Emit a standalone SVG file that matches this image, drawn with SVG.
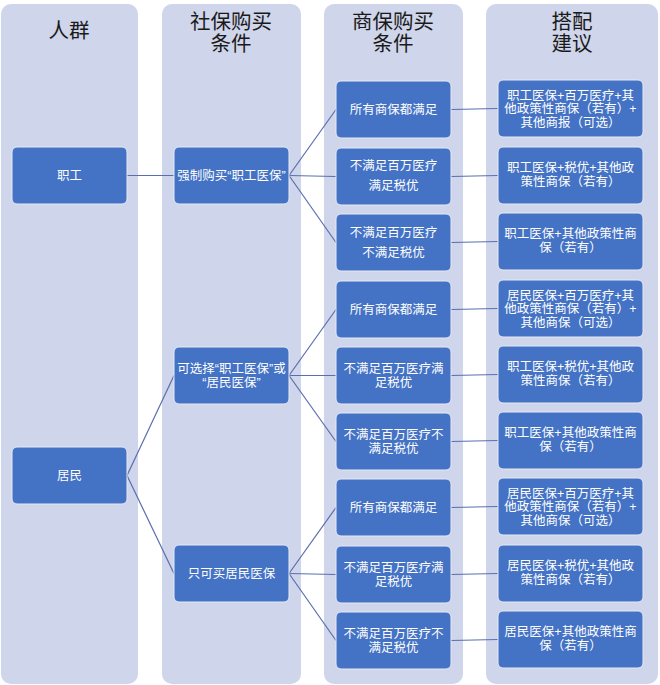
<svg xmlns="http://www.w3.org/2000/svg" width="660" height="685" viewBox="0 0 660 685">
<style>
.lane{fill:#CFD5EA}
.hd{font-family:"Liberation Sans","Noto Sans CJK SC",sans-serif;font-size:20.5px;fill:#1a1a1a;text-anchor:middle}
.nd rect{fill:#4472C4;stroke:#E6EAF5;stroke-width:1}
.nd text{font-family:"Liberation Sans","Noto Sans CJK SC",sans-serif;font-size:12.5px;fill:#ffffff;text-anchor:middle}
.cn line{stroke:#5A6EAE;stroke-width:1.2}
</style>
<rect width="660" height="685" fill="#ffffff"/>
<g id="lanes">
<rect class="lane" x="1" y="4" width="137" height="680" rx="10"/>
<rect class="lane" x="162" y="4" width="139" height="680" rx="10"/>
<rect class="lane" x="324" y="4" width="139" height="680" rx="10"/>
<rect class="lane" x="486" y="4" width="172" height="680" rx="10"/>
</g>
<g id="headers">
<text class="hd" x="69" y="38">人群</text>
<text class="hd" x="231" y="29">社保购买</text>
<text class="hd" x="231" y="51">条件</text>
<text class="hd" x="393" y="29">商保购买</text>
<text class="hd" x="393" y="51">条件</text>
<text class="hd" x="572" y="29">搭配</text>
<text class="hd" x="572" y="51">建议</text>
</g>
<g id="connectors" class="cn">
<line x1="127" y1="175.5" x2="174" y2="175.5"/>
<line x1="127" y1="475.5" x2="174" y2="375.5"/>
<line x1="127" y1="475.5" x2="174" y2="573.5"/>
<line x1="289" y1="175.5" x2="336" y2="109.5"/>
<line x1="289" y1="175.5" x2="336" y2="176.5"/>
<line x1="289" y1="175.5" x2="336" y2="242.5"/>
<line x1="289" y1="375.5" x2="336" y2="309.5"/>
<line x1="289" y1="375.5" x2="336" y2="375.5"/>
<line x1="289" y1="375.5" x2="336" y2="441.5"/>
<line x1="289" y1="573.5" x2="336" y2="507.5"/>
<line x1="289" y1="573.5" x2="336" y2="574.5"/>
<line x1="289" y1="573.5" x2="336" y2="640.5"/>
<line x1="451" y1="109.5" x2="498" y2="108.5"/>
<line x1="451" y1="176.5" x2="498" y2="175.5"/>
<line x1="451" y1="242.5" x2="498" y2="241.5"/>
<line x1="451" y1="309.5" x2="498" y2="308.5"/>
<line x1="451" y1="375.5" x2="498" y2="374.5"/>
<line x1="451" y1="441.5" x2="498" y2="440.5"/>
<line x1="451" y1="507.5" x2="498" y2="506.5"/>
<line x1="451" y1="574.5" x2="498" y2="573.5"/>
<line x1="451" y1="640.5" x2="498" y2="639.5"/>
</g>
<g id="n-zhigong" class="nd"><rect x="12" y="147" width="115" height="57" rx="5"/><text x="69.5" y="180">职工</text></g>
<g id="n-jumin" class="nd"><rect x="12" y="447" width="115" height="57" rx="5"/><text x="69.5" y="480">居民</text></g>
<g id="n-qiangzhi" class="nd"><rect x="174" y="147" width="115" height="57" rx="5"/><text x="231.5" y="180">强制购买“职工医保”</text></g>
<g id="n-kexuan" class="nd"><rect x="174" y="347" width="115" height="57" rx="5"/><text x="231.5" y="373">可选择“职工医保”或</text><text x="231.5" y="387">“居民医保”</text></g>
<g id="n-zhike" class="nd"><rect x="174" y="545" width="115" height="57" rx="5"/><text x="231.5" y="578">只可买居民医保</text></g>

<g id="c3-1" class="nd"><rect x="336" y="81" width="115" height="57" rx="5"/><text x="393.5" y="114">所有商保都满足</text></g>
<g id="c3-2" class="nd"><rect x="336" y="148" width="115" height="57" rx="5"/><text x="393.5" y="170">不满足百万医疗</text><text x="393.5" y="190">满足税优</text></g>
<g id="c3-3" class="nd"><rect x="336" y="214" width="115" height="57" rx="5"/><text x="393.5" y="237">不满足百万医疗</text><text x="393.5" y="257">不满足税优</text></g>
<g id="c3-4" class="nd"><rect x="336" y="281" width="115" height="57" rx="5"/><text x="393.5" y="314">所有商保都满足</text></g>
<g id="c3-5" class="nd"><rect x="336" y="347" width="115" height="57" rx="5"/><text x="393.5" y="373">不满足百万医疗满</text><text x="393.5" y="387">足税优</text></g>
<g id="c3-6" class="nd"><rect x="336" y="413" width="115" height="57" rx="5"/><text x="393.5" y="439">不满足百万医疗不</text><text x="393.5" y="453">满足税优</text></g>
<g id="c3-7" class="nd"><rect x="336" y="479" width="115" height="57" rx="5"/><text x="393.5" y="512">所有商保都满足</text></g>
<g id="c3-8" class="nd"><rect x="336" y="546" width="115" height="57" rx="5"/><text x="393.5" y="572">不满足百万医疗满</text><text x="393.5" y="586">足税优</text></g>
<g id="c3-9" class="nd"><rect x="336" y="612" width="115" height="57" rx="5"/><text x="393.5" y="638">不满足百万医疗不</text><text x="393.5" y="652">满足税优</text></g>

<g id="c4-1" class="nd"><rect x="498" y="80" width="145" height="57" rx="5"/><text x="570.5" y="99.5">职工医保+百万医疗+其</text><text x="570.5" y="113">他政策性商保（若有）+</text><text x="570.5" y="126.5">其他商报（可选）</text></g>
<g id="c4-2" class="nd"><rect x="498" y="147" width="145" height="57" rx="5"/><text x="570.5" y="172">职工医保+税优+其他政</text><text x="570.5" y="186">策性商保（若有）</text></g>
<g id="c4-3" class="nd"><rect x="498" y="213" width="145" height="57" rx="5"/><text x="570.5" y="238">职工医保+其他政策性商</text><text x="570.5" y="252">保（若有）</text></g>
<g id="c4-4" class="nd"><rect x="498" y="280" width="145" height="57" rx="5"/><text x="570.5" y="299.5">居民医保+百万医疗+其</text><text x="570.5" y="313">他政策性商保（若有）+</text><text x="570.5" y="326.5">其他商保（可选）</text></g>
<g id="c4-5" class="nd"><rect x="498" y="346" width="145" height="57" rx="5"/><text x="570.5" y="371">职工医保+税优+其他政</text><text x="570.5" y="385">策性商保（若有）</text></g>
<g id="c4-6" class="nd"><rect x="498" y="412" width="145" height="57" rx="5"/><text x="570.5" y="437">职工医保+其他政策性商</text><text x="570.5" y="451">保（若有）</text></g>
<g id="c4-7" class="nd"><rect x="498" y="478" width="145" height="57" rx="5"/><text x="570.5" y="497.5">居民医保+百万医疗+其</text><text x="570.5" y="511">他政策性商保（若有）+</text><text x="570.5" y="524.5">其他商保（可选）</text></g>
<g id="c4-8" class="nd"><rect x="498" y="545" width="145" height="57" rx="5"/><text x="570.5" y="570">居民医保+税优+其他政</text><text x="570.5" y="584">策性商保（若有）</text></g>
<g id="c4-9" class="nd"><rect x="498" y="611" width="145" height="57" rx="5"/><text x="570.5" y="636">居民医保+其他政策性商</text><text x="570.5" y="650">保（若有）</text></g>
</svg>
